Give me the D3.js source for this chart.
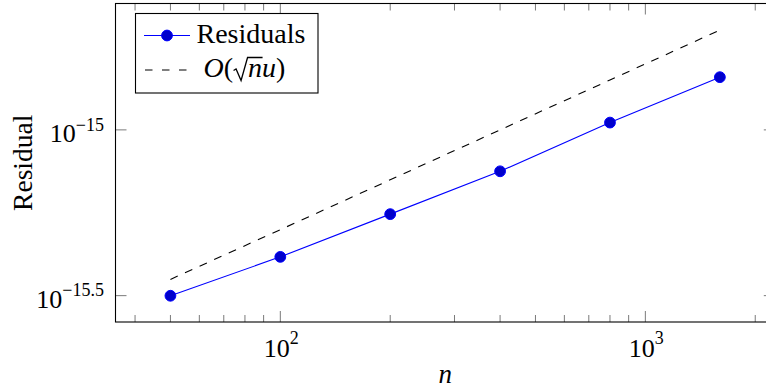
<!DOCTYPE html>
<html>
<head>
<meta charset="utf-8">
<script src="https://cdn.jsdelivr.net/npm/d3@7"></script>
<style>
  html, body { margin: 0; padding: 0; background: #fff; }
  svg { display: block; }
</style>
</head>
<body>
<svg id="chart" width="766" height="392"></svg>
<script>
// ---- data ----
const sizes = [50, 100, 200, 400, 800, 1600];
const residuals = [3.16e-16, 4.14e-16, 5.57e-16, 7.50e-16, 1.052e-15, 1.442e-15];
const bound = [3.54e-16, 5.0e-16, 7.07e-16, 1.0e-15, 1.414e-15, 2.0e-15];
const xMajorTicks = [100, 1000];
const xMajorExps = ["2", "3"];
const xMinorTicks = [40, 50, 60, 70, 80, 90, 200, 300, 400, 500, 600, 700, 800, 900, 2000];
const yTicks = [1e-15, Math.pow(10, -15.5)];
const yTickExps = ["\u221215", "\u221215.5"];
const seriesNames = ["Residuals", "O(\u221Anu)"];
const xLabel = "n";
const yLabel = "Residual";

const FONT = "'Liberation Serif', 'Tinos', 'Times New Roman', 'DejaVu Serif', serif";

// ---- layout ----
const L = 115.5, R = 774.8, T = 3.5, B = 322;
const svg = d3.select("#chart").attr("font-family", FONT);

const x = d3.scaleLog().domain([Math.pow(10, 1.5485), Math.pow(10, 3.3546)]).range([L, R]);
const y = d3.scaleLog().domain([Math.pow(10, -15.5795), Math.pow(10, -14.6188)]).range([B, T]);

const tickColor = "#7a7a7a";
const majorLen = 11, minorLen = 7;

// x ticks (bottom + top)
const g = svg.append("g");
function xTick(v, len) {
  g.append("line").attr("x1", x(v)).attr("x2", x(v)).attr("y1", B).attr("y2", B - len)
    .attr("stroke", tickColor).attr("stroke-width", 1);
  g.append("line").attr("x1", x(v)).attr("x2", x(v)).attr("y1", T).attr("y2", T + len)
    .attr("stroke", tickColor).attr("stroke-width", 1);
}
xMinorTicks.forEach(v => xTick(v, minorLen));
xMajorTicks.forEach(v => xTick(v, majorLen));
// y ticks (left + right)
yTicks.forEach(v => {
  g.append("line").attr("x1", L).attr("x2", L + majorLen).attr("y1", y(v)).attr("y2", y(v))
    .attr("stroke", tickColor).attr("stroke-width", 1);
  g.append("line").attr("x1", R).attr("x2", R - majorLen).attr("y1", y(v)).attr("y2", y(v))
    .attr("stroke", tickColor).attr("stroke-width", 1);
});

// frame
svg.append("rect").attr("x", L).attr("y", T).attr("width", R - L).attr("height", B - T)
  .attr("fill", "none").attr("stroke", "#000").attr("stroke-width", 1.1);

// x tick labels
xMajorTicks.forEach((v, i) => {
  const t = svg.append("text").attr("x", x(v) + 1).attr("y", 357.3)
    .attr("text-anchor", "middle").attr("font-size", 26).attr("font-family", FONT);
  t.append("tspan").text("10");
  t.append("tspan").attr("dy", -13).attr("font-size", 18).text(xMajorExps[i]);
});
// y tick labels
yTicks.forEach((v, i) => {
  const t = svg.append("text").attr("x", 104).attr("y", y(v) + 12.3)
    .attr("text-anchor", "end").attr("font-size", 26).attr("font-family", FONT);
  t.append("tspan").text("10");
  t.append("tspan").attr("dy", -11.5).attr("font-size", 18).text(yTickExps[i]);
});

// axis labels
svg.append("text").attr("x", (L + R) / 2).attr("y", 382.5).attr("text-anchor", "middle")
  .attr("font-family", FONT).attr("font-size", 27).attr("font-style", "italic").text(xLabel);
svg.append("text").attr("transform", `translate(32,${(T + B) / 2}) rotate(-90)`)
  .attr("font-family", FONT).attr("text-anchor", "middle").attr("font-size", 27.5).text(yLabel);

// bound (dashed)
const line = d3.line().x(d => x(d[0])).y(d => y(d[1]));
svg.append("path").datum(sizes.map((n, i) => [n, bound[i]]))
  .attr("d", line).attr("fill", "none").attr("stroke", "#000")
  .attr("stroke-width", 1.1).attr("stroke-dasharray", "8,8");

// residuals
svg.append("path").datum(sizes.map((n, i) => [n, residuals[i]]))
  .attr("d", line).attr("fill", "none").attr("stroke", "#0000ff").attr("stroke-width", 1.1);
svg.selectAll("circle.pt").data(sizes.map((n, i) => [n, residuals[i]])).enter()
  .append("circle").attr("class", "pt")
  .attr("cx", d => x(d[0])).attr("cy", d => y(d[1])).attr("r", 5.4)
  .attr("fill", "#0000cc").attr("stroke", "#0000ff").attr("stroke-width", 1);

// legend
const lg = svg.append("g");
lg.append("rect").attr("x", 135.5).attr("y", 13.5).attr("width", 182.5).attr("height", 79.5)
  .attr("fill", "#fff").attr("stroke", "#000").attr("stroke-width", 1.1);
lg.append("line").attr("x1", 144).attr("x2", 190).attr("y1", 35.5).attr("y2", 35.5)
  .attr("stroke", "#0000ff").attr("stroke-width", 1.1);
lg.append("circle").attr("cx", 167).attr("cy", 35.5).attr("r", 5.4)
  .attr("fill", "#0000cc").attr("stroke", "#0000ff").attr("stroke-width", 1);
lg.append("text").attr("x", 196.5).attr("y", 42.5).attr("font-family", FONT)
  .attr("font-size", 28).text(seriesNames[0]);
lg.append("line").attr("x1", 145).attr("x2", 190).attr("y1", 70).attr("y2", 70)
  .attr("stroke", "#000").attr("stroke-width", 1.1).attr("stroke-dasharray", "7.5,9.5");

// O(√nu): "O(" text, drawn radical with vinculum, "nu)" text
const name2 = seriesNames[1];
const t1 = lg.append("text").attr("x", 203.5).attr("y", 76.5).attr("font-family", FONT).attr("font-size", 28);
t1.append("tspan").attr("font-style", "italic").text(name2[0]);
t1.append("tspan").text(name2[1]);
const x0 = 203.5 + t1.node().getComputedTextLength() + 0.5;
const t2 = lg.append("text").attr("x", x0 + 14.5).attr("y", 76.5).attr("font-family", FONT).attr("font-size", 28);
t2.append("tspan").attr("font-style", "italic").text(name2.slice(3, 5));
t2.append("tspan").text(name2[5]);
// vinculum over n
const nEnd = t2.node().getEndPositionOfChar(0).x;
lg.append("path")
  .attr("d", `M${x0},70.5 L${x0 + 2.5},69 L${x0 + 7.5},80.5 L${x0 + 14},57.5 L${nEnd + 0.5},57.5`)
  .attr("fill", "none").attr("stroke", "#000").attr("stroke-width", 1.3).attr("stroke-linejoin", "miter");
</script>
</body>
</html>
